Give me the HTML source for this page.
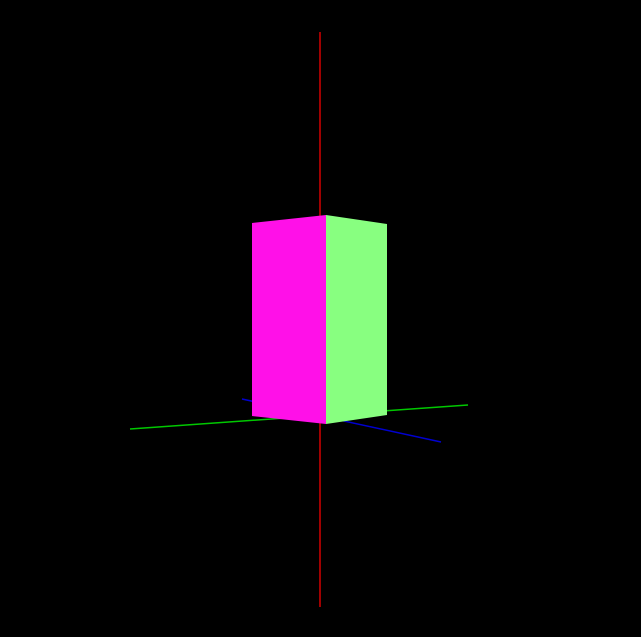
<!DOCTYPE html>
<html><head><meta charset="utf-8"><style>html,body{margin:0;padding:0;background:#000;width:641px;height:637px;overflow:hidden}</style></head>
<body>
<svg width="641" height="637" viewBox="0 0 641 637" xmlns="http://www.w3.org/2000/svg">
<rect width="641" height="637" fill="#000"/>
<line x1="320" y1="32" x2="320" y2="607" stroke="#a00000" stroke-width="2"/>
<line x1="242" y1="399" x2="441" y2="442" stroke="#0000d0" stroke-width="1.5"/>
<line x1="130" y1="429" x2="468" y2="405" stroke="#00c800" stroke-width="1.5"/>
<polygon points="252,223 326,215 326,424 252,416" fill="#ff10e8"/>
<polygon points="326,215 387,224 387,415 326,424" fill="#88ff80"/>
</svg>
</body></html>
